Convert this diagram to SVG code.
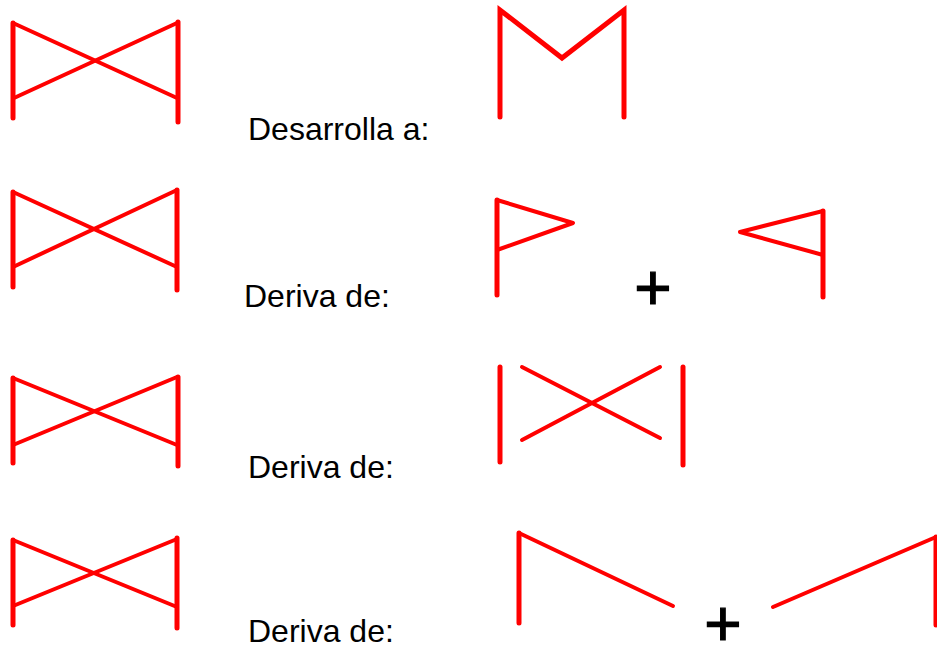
<svg xmlns="http://www.w3.org/2000/svg" width="937" height="648" viewBox="0 0 937 648">
<style>
.v{stroke:#ff0000;stroke-width:5;stroke-linecap:round;fill:none}
.d{stroke:#ff0000;stroke-width:4;stroke-linecap:round;stroke-linejoin:round;fill:none}
.t{font-family:"Liberation Sans",Arial,sans-serif;font-size:32px;fill:#000}
.p{font-family:"Liberation Sans",Arial,sans-serif;font-size:64px;fill:#000;stroke:#000;stroke-width:1.2;text-anchor:middle}
</style>
<rect width="937" height="648" fill="#fff"/>
<g id="bowtie1">
<line class="v" x1="13" y1="23" x2="13" y2="118"/>
<line class="v" x1="178" y1="22" x2="178" y2="122"/>
<line class="d" x1="13" y1="23" x2="177" y2="98"/>
<line class="d" x1="14" y1="98" x2="177" y2="23"/>
</g>
<text class="t" x="248" y="140">Desarrolla a:</text>
<g id="m-shape">
<path class="v" d="M500,117 L500,10 L562,58 L624,10 L624,117"/>
</g>
<g id="bowtie2">
<line class="v" x1="13" y1="192" x2="13" y2="287"/>
<line class="v" x1="177" y1="190" x2="177" y2="290"/>
<line class="d" x1="13" y1="192" x2="177" y2="267"/>
<line class="d" x1="13" y1="267" x2="177" y2="190"/>
</g>
<text class="t" x="244" y="307">Deriva de:</text>
<g id="flag-left">
<line class="v" x1="497" y1="200" x2="497" y2="295"/>
<path class="d" d="M497,200 L573,223 L497,250"/>
</g>
<text class="p" x="653" y="310">+</text>
<g id="flag-right">
<line class="v" x1="823" y1="211" x2="823" y2="297"/>
<path class="d" d="M823,211 L740,232 L823,255"/>
</g>
<g id="bowtie3">
<line class="v" x1="13" y1="378" x2="13" y2="463"/>
<line class="v" x1="178" y1="377" x2="178" y2="466"/>
<line class="d" x1="13" y1="378" x2="177" y2="445"/>
<line class="d" x1="13" y1="445" x2="177" y2="377"/>
</g>
<text class="t" x="248" y="478">Deriva de:</text>
<g id="cross-split">
<line class="v" x1="500" y1="367" x2="500" y2="462"/>
<line class="v" x1="683" y1="367" x2="683" y2="465"/>
<line class="d" x1="522" y1="367" x2="660" y2="438"/>
<line class="d" x1="522" y1="440" x2="660" y2="367"/>
</g>
<g id="bowtie4">
<line class="v" x1="13" y1="540" x2="13" y2="625"/>
<line class="v" x1="177" y1="538" x2="177" y2="628"/>
<line class="d" x1="13" y1="540" x2="177" y2="607"/>
<line class="d" x1="13" y1="606" x2="177" y2="539"/>
</g>
<text class="t" x="248" y="642">Deriva de:</text>
<g id="half-left">
<line class="v" x1="519" y1="533" x2="519" y2="623"/>
<line class="d" x1="519" y1="533" x2="673" y2="606"/>
</g>
<text class="p" x="723" y="646">+</text>
<g id="half-right">
<line class="d" x1="773" y1="607" x2="936" y2="537"/>
<line class="v" x1="936" y1="537" x2="936" y2="625"/>
</g>
</svg>
